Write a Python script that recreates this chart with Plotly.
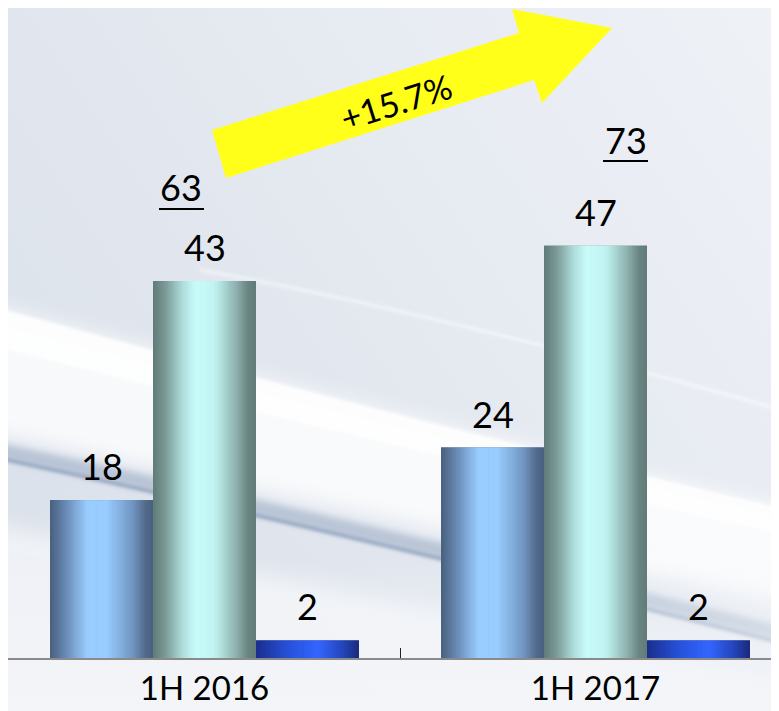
import base64
import plotly.graph_objects as go

# ---------------- data ----------------
categories = ["1H 2016", "1H 2017"]
series_a = [18, 24]
series_b = [43, 47]
series_c = [2, 2]
series_names = ["Series A", "Series B", "Series C"]
growth_label = "+15.7%"
totals = [a + b + c for a, b, c in zip(series_a, series_b, series_c)]

# ---------------- geometry / style ----------------
# page body has an 8px margin, so the figure is 8px smaller than the window
OFF = 8
W, H = 779 - OFF, 711 - OFF
ML, MR, MT = 0, 0, 0
PH = 658 - OFF
MB = H - PH
PW = W - ML - MR
UNIT = 391.0          # px per category
PXV = 8.77            # px per value unit
XSHIFT = 1.0          # keep first boundary tick inside the plot
FONT = "Lato"

def px2paper(px, py):
    """reference-image pixel -> paper coords"""
    return (px - OFF - ML) / PW, 1 - (py - OFF - MT) / PH

BW = 103 / UNIT
offsets = [-1.5 * BW, -0.5 * BW, 0.5 * BW]

grads = [
    [(0, "#47607d"), (0.14, "#6686b0"), (0.36, "#99ccff"), (0.55, "#99ccff"), (0.8, "#7196c2"), (0.93, "#52698a"), (1, "#4a6080")],
    [(0, "#607b78"), (0.12, "#7b9a97"), (0.3, "#b2e2df"), (0.42, "#c8fcfb"), (0.6, "#c0f3f1"), (0.8, "#8fb4b1"), (0.92, "#6a8683"), (1, "#607a77")],
    [(0, "#1a2f8c"), (0.3, "#2650d8"), (0.6, "#3366ff"), (0.85, "#2444b8"), (1, "#1a2a7a")],
]

def hex2rgb(h):
    h = h.lstrip("#")
    return tuple(int(h[i:i + 2], 16) for i in (0, 2, 4))

def interp(stops, t):
    for (t0, c0), (t1, c1) in zip(stops[:-1], stops[1:]):
        if t0 <= t <= t1:
            f = 0 if t1 == t0 else (t - t0) / (t1 - t0)
            a, b = hex2rgb(c0), hex2rgb(c1)
            return "rgb(%d,%d,%d)" % tuple(round(a[k] + (b[k] - a[k]) * f) for k in range(3))
    return stops[-1][1]

# ---------------- background (svg, drawn in reference-pixel space) ----------------
svg = f'''<svg xmlns="http://www.w3.org/2000/svg" width="{W}" height="{H}" viewBox="{OFF} {OFF} {W} {H}" preserveAspectRatio="none">
<defs>
<linearGradient id="base" x1="0" y1="0.6" x2="1" y2="0">
<stop offset="0" stop-color="#dce2eb"/><stop offset="1" stop-color="#eff2f7"/>
</linearGradient>
<linearGradient id="bot" x1="0" y1="0" x2="0" y2="1">
<stop offset="0" stop-color="#f3f5f9" stop-opacity="0"/><stop offset="1" stop-color="#f3f5f9" stop-opacity="1"/>
</linearGradient>
<filter id="b10" x="-20%" y="-50%" width="140%" height="200%"><feGaussianBlur stdDeviation="10"/></filter>
<filter id="b3" x="-20%" y="-50%" width="140%" height="200%"><feGaussianBlur stdDeviation="3"/></filter>
<filter id="b1" x="-20%" y="-50%" width="140%" height="200%"><feGaussianBlur stdDeviation="1.5"/></filter>
</defs>
<rect x="0" y="0" width="800" height="720" fill="url(#base)"/>
<path d="M-30,300 Q400,420 810,515 L810,610 Q400,520 -30,430 Z" fill="#ffffff" opacity="0.8" filter="url(#b10)"/>
<path d="M-30,300 Q400,420 810,515 L810,540 Q400,450 -30,340 Z" fill="#ffffff" opacity="0.85" filter="url(#b1)"/>
<path d="M200,270 Q450,315 810,418" stroke="#ffffff" stroke-width="4" fill="none" opacity="0.4" filter="url(#b1)"/>
<path d="M-30,445 Q330,520 810,642" stroke="#a9b8cc" stroke-width="16" fill="none" opacity="0.7" filter="url(#b3)"/>
<path d="M-30,452 Q330,528 810,650" stroke="#8196b5" stroke-width="4" fill="none" opacity="0.6" filter="url(#b1)"/>
<path d="M-30,520 Q330,585 810,690 L810,720 L-30,720 Z" fill="#ffffff" opacity="0.55" filter="url(#b10)"/>
<rect x="0" y="560" width="800" height="160" fill="url(#bot)"/>
</svg>'''
bg_src = "data:image/svg+xml;base64," + base64.b64encode(svg.encode()).decode()

# ---------------- figure ----------------
fig = go.Figure()
NS = 48
for si, vals in enumerate([series_a, series_b, series_c]):
    stops = grads[si]
    fig.add_trace(go.Bar(
        x=categories, y=vals, name=series_names[si], width=BW, offset=offsets[si],
        marker=dict(color=stops[0][1], line=dict(width=0)), showlegend=False,
        hoverinfo="x+y+name"))
    sw = BW / NS
    for k in range(NS):
        t = (k + 0.5) / NS
        fig.add_trace(go.Bar(
            x=categories, y=vals, width=sw * 1.3 if k < NS - 1 else sw,
            offset=offsets[si] + k * sw,
            marker=dict(color=interp(stops, t), line=dict(width=0)),
            showlegend=False, hoverinfo="skip"))

annotations = []
for si, vals in enumerate([series_a, series_b, series_c]):
    for ci, v in enumerate(vals):
        annotations.append(dict(
            x=ci + offsets[si] + BW / 2, y=v, xref="x", yref="y",
            text=str(v), showarrow=False, xanchor="center", yanchor="bottom", yshift=10,
            font=dict(family=FONT, size=36, color="#000000")))

# totals (underlined)
tot_pos = [(181, 187), (626, 140)]
under = [((159, 204), 209), ((603, 648), 161)]
shapes = []
for (cx, cy), tot, ((ux0, ux1), uy) in zip(tot_pos, totals, under):
    xp, yp = px2paper(cx, cy)
    annotations.append(dict(x=xp, y=yp, xref="paper", yref="paper", text=str(tot),
                            showarrow=False, yanchor="middle", xanchor="center",
                            font=dict(family=FONT, size=36, color="#000000")))
    a0 = px2paper(ux0, uy)
    a1 = px2paper(ux1, uy)
    shapes.append(dict(type="line", xref="paper", yref="paper", x0=a0[0], y0=a0[1],
                       x1=a1[0], y1=a1[1], line=dict(color="#000000", width=2)))

# growth arrow
arrow_px = [(212, 130), (519, 33), (512, 9), (612, 28), (542, 103), (534, 80), (226, 178)]
pts = [px2paper(x, y) for x, y in arrow_px]
path = "M " + " L ".join(f"{x:.4f},{y:.4f}" for x, y in pts) + " Z"
shapes.append(dict(type="path", xref="paper", yref="paper", path=path,
                   fillcolor="#ffff1a", line=dict(width=0), layer="above"))
gx, gy = px2paper(396, 102)
annotations.append(dict(x=gx, y=gy, xref="paper", yref="paper", text=growth_label,
                        showarrow=False, textangle=-17.5, xanchor="center", yanchor="middle",
                        font=dict(family=FONT, size=34, color="#000000")))

fig.update_layout(
    width=W, height=H,
    margin=dict(l=ML, r=MR, t=MT, b=MB, pad=0),
    barmode="overlay",
    paper_bgcolor="#eef1f5", plot_bgcolor="rgba(0,0,0,0)",
    showlegend=False,
    xaxis=dict(type="category", categoryorder="array", categoryarray=categories,
               range=[-0.5 - XSHIFT / UNIT, -0.5 + (PW - XSHIFT) / UNIT], tickson="boundaries",
               ticks="inside", ticklen=10, tickwidth=1, tickcolor="#222222",
               showline=True, linecolor="#8a8a8a", linewidth=2, showgrid=False,
               zeroline=False, fixedrange=True,
               tickfont=dict(family=FONT, size=33, color="#000000")),
    yaxis=dict(range=[0, PH / PXV], visible=False, showgrid=False, zeroline=False,
               fixedrange=True),
    annotations=annotations,
    shapes=shapes,
    images=[dict(source=bg_src, xref="paper", yref="paper", x=0, y=1,
                 sizex=W / PW, sizey=H / PH, xanchor="left", yanchor="top",
                 sizing="stretch", layer="below")],
)

fig.write_html("out.html")
